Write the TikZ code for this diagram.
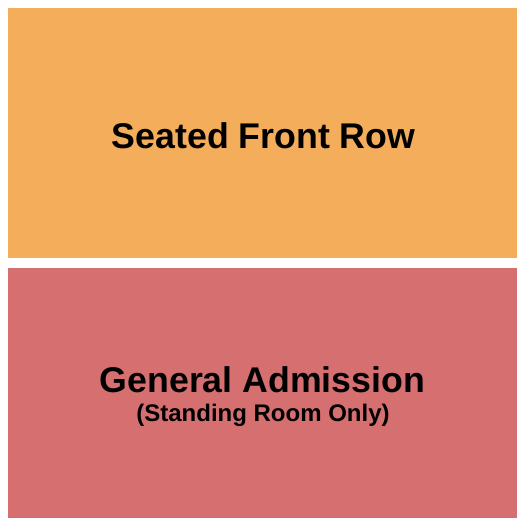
\documentclass[tikz,border=0pt]{standalone}
\usepackage{fontspec}
\setmainfont{Liberation Sans}
\definecolor{frontrow}{RGB}{244,174,91}
\definecolor{admission}{RGB}{214,112,112}
\tikzset{
    section/.style={inner sep=0pt, outer sep=0pt},
    biglabel/.style={font=\fontsize{35.7}{40}\selectfont\bfseries, inner sep=0pt, anchor=base},
    smalllabel/.style={font=\fontsize{24}{28}\selectfont\bfseries, inner sep=0pt, anchor=base}
}
\begin{document}
\begin{tikzpicture}[x=1pt, y=-1pt]
        \useasboundingbox (0, 0) rectangle (525, 525);
        \fill[white] (0, 0) rectangle (525, 525);

        \fill[frontrow] (8, 8) rectangle (517, 258);
        \fill[admission] (8, 268) rectangle (517, 518);

        \node[biglabel] (SFR) at (263.5, 148) {Seated Front Row};
        \node[biglabel] (GA) at (262.5, 392) {General Admission};
        \node[smalllabel] (SRO) at (263, 421) {(Standing Room Only)};
    \end{tikzpicture}
\end{document}
